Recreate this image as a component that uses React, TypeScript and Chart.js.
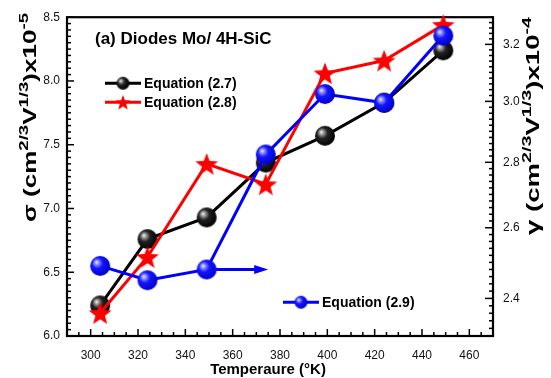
import React, { useEffect, useRef } from "react";
import { Chart, registerables } from "chart.js";

Chart.register(...registerables);

// ---- data ----
const TEMPERATURES = [304, 324, 349, 374, 399, 424, 449];
const SIGMA_EQ27 = [6.24, 6.76, 6.93, 7.36, 7.57, 7.83, 8.24];
const SIGMA_EQ28 = [6.18, 6.62, 7.35, 7.19, 8.06, 8.16, 8.44];
const GAMMA_EQ29 = [2.49, 2.45, 2.48, 2.825, 3.025, 2.995, 3.232];
const X_TICKS = [300, 320, 340, 360, 380, 400, 420, 440, 460];
const LEFT_TICKS = [6.0, 6.5, 7.0, 7.5, 8.0, 8.5];
const RIGHT_TICKS = [2.4, 2.6, 2.8, 3.0, 3.2];
const ARROW_X = [353, 375];
const ARROW_Y = 2.48;

const FONT = "'Liberation Sans', Arial, sans-serif";

function makeSphere(r: number, hi: string, base: string, dark: string) {
  const c = document.createElement("canvas");
  const s = Math.ceil(2 * r + 2);
  c.width = s;
  c.height = s;
  const g = c.getContext("2d")!;
  const cx = s / 2, cy = s / 2;
  const grad = g.createRadialGradient(cx - r * 0.38, cy - r * 0.38, 0, cx - r * 0.15, cy - r * 0.15, r * 1.2);
  grad.addColorStop(0, "#ffffff");
  grad.addColorStop(0.13, hi);
  grad.addColorStop(0.45, base);
  grad.addColorStop(1, dark);
  g.fillStyle = grad;
  g.beginPath();
  g.arc(cx, cy, r, 0, Math.PI * 2);
  g.fill();
  return c;
}

function makeStar(R: number, color: string) {
  const c = document.createElement("canvas");
  const s = Math.ceil(2 * R + 2);
  c.width = s;
  c.height = s;
  const g = c.getContext("2d")!;
  const cx = s / 2, cy = s / 2 + R * 0.1;
  const r = R * 0.42;
  g.beginPath();
  for (let i = 0; i < 10; i++) {
    const a = -Math.PI / 2 + (i * Math.PI) / 5;
    const rr = i % 2 === 0 ? R : r;
    const x = cx + rr * Math.cos(a), y = cy + rr * Math.sin(a);
    if (i === 0) g.moveTo(x, y);
    else g.lineTo(x, y);
  }
  g.closePath();
  g.fillStyle = color;
  g.fill();
  return c;
}

type Seg = { t: string; sup?: boolean };

function drawRotatedRich(ctx: CanvasRenderingContext2D, x: number, y: number, segs: Seg[], len: number, main: number, sup: number, raise: number) {
  ctx.save();
  ctx.translate(x, y);
  ctx.rotate(-Math.PI / 2);
  let total = 0;
  segs.forEach((s) => {
    ctx.font = `bold ${s.sup ? sup : main}px ${FONT}`;
    total += ctx.measureText(s.t).width;
  });
  ctx.scale(len / total, 1);
  ctx.fillStyle = "#000";
  ctx.textBaseline = "alphabetic";
  ctx.textAlign = "left";
  let pos = 0;
  segs.forEach((s) => {
    ctx.font = `bold ${s.sup ? sup : main}px ${FONT}`;
    ctx.fillText(s.t, pos, s.sup ? -raise : 0);
    pos += ctx.measureText(s.t).width;
  });
  ctx.restore();
}

export default function App() {
  const ref = useRef<HTMLCanvasElement | null>(null);
  useEffect(() => {
    document.body.style.margin = "0";
    const blackSphere = makeSphere(10, "#b5b5b5", "#222222", "#000000");
    const blueSphere = makeSphere(10, "#a8a8ff", "#1515ff", "#0000c8");
    const redStar = makeStar(12, "#ff0000");
    const blackSmall = makeSphere(6.5, "#b5b5b5", "#222222", "#000000");
    const blueSmall = makeSphere(6.5, "#a8a8ff", "#1515ff", "#0000c8");
    const redSmall = makeStar(8, "#ff0000");

    const decor = {
      id: "decor",
      beforeDatasetsDraw(chart: any) {
        const { ctx, chartArea: a, scales } = chart;
        ctx.save();
        ctx.strokeStyle = "#000";
        ctx.lineWidth = 1.5;
        const xs = scales.x, yl = scales.y, yr = scales.y2;
        for (let v = 290; v <= 470; v += 5) {
          const px = xs.getPixelForValue(v);
          const major = (v - 300) % 20 === 0;
          ctx.beginPath();
          ctx.moveTo(px, a.bottom);
          ctx.lineTo(px, a.bottom - (major ? 7 : 4));
          ctx.stroke();
        }
        for (let i = 0; i <= 50; i++) {
          const v = 6 + i * 0.05;
          const py = yl.getPixelForValue(v);
          const major = i % 10 === 0;
          ctx.beginPath();
          ctx.moveTo(a.left, py);
          ctx.lineTo(a.left + (major ? 7 : 4), py);
          ctx.stroke();
        }
        for (let i = 0; i <= 50; i++) {
          const v = 2.3 + i * 0.02;
          const py = yr.getPixelForValue(v);
          const major = (i - 5) % 10 === 0;
          ctx.beginPath();
          ctx.moveTo(a.right, py);
          ctx.lineTo(a.right - (major ? 8 : 4), py);
          ctx.stroke();
        }
        ctx.lineWidth = 2.2;
        ctx.strokeRect(a.left, a.top, a.right - a.left, a.bottom - a.top);
        ctx.restore();
      },
      afterDatasetsDraw(chart: any) {
        const { ctx, chartArea: a, scales } = chart;
        ctx.save();
        // arrow
        const ax0 = scales.x.getPixelForValue(ARROW_X[0]);
        const ax1 = scales.x.getPixelForValue(ARROW_X[1]);
        const ay = scales.y2.getPixelForValue(ARROW_Y);
        ctx.strokeStyle = "#0000ff";
        ctx.fillStyle = "#0000ff";
        ctx.lineWidth = 3;
        ctx.beginPath();
        ctx.moveTo(ax0, ay);
        ctx.lineTo(ax1 - 10, ay);
        ctx.stroke();
        ctx.beginPath();
        ctx.moveTo(ax1, ay);
        ctx.lineTo(ax1 - 14, ay - 4.5);
        ctx.lineTo(ax1 - 14, ay + 4.5);
        ctx.closePath();
        ctx.fill();

        // title
        ctx.fillStyle = "#000";
        ctx.font = `bold 17px ${FONT}`;
        ctx.textBaseline = "middle";
        ctx.textAlign = "left";
        ctx.fillText("(a) Diodes Mo/ 4H-SiC", a.left + 28, a.top + 22);

        // legend
        const legend = (x0: number, y: number, color: string, img: HTMLCanvasElement, text: string) => {
          ctx.strokeStyle = color;
          ctx.lineWidth = 3;
          ctx.beginPath();
          ctx.moveTo(x0, y);
          ctx.lineTo(x0 + 36, y);
          ctx.stroke();
          ctx.drawImage(img, x0 + 18 - img.width / 2, y - img.height / 2);
          ctx.fillStyle = "#000";
          ctx.font = `bold 14px ${FONT}`;
          ctx.textBaseline = "middle";
          ctx.fillText(text, x0 + 39, y + 1);
        };
        legend(a.left + 38, a.top + 66, "#000", blackSmall, "Equation (2.7)");
        legend(a.left + 38, a.top + 85, "#ff0000", redSmall, "Equation (2.8)");
        legend(a.left + 216, a.top + 285, "#0000ff", blueSmall, "Equation (2.9)");

        // x title
        ctx.fillStyle = "#000";
        ctx.font = `bold 15px ${FONT}`;
        ctx.textAlign = "center";
        ctx.textBaseline = "alphabetic";
        ctx.fillText("Temperaure (\u00B0K)", (a.left + a.right) / 2 - 12, 374);

        // y titles
        drawRotatedRich(
          ctx, 36, 222,
          [{ t: "\u03C3 (cm" }, { t: "2/3", sup: true }, { t: "V" }, { t: "1/3", sup: true }, { t: ")x10" }, { t: "-5", sup: true }],
          209, 17.5, 12.5, 8.5
        );
        drawRotatedRich(
          ctx, 539, 235,
          [{ t: "\u03B3 (cm" }, { t: "2/3", sup: true }, { t: "V" }, { t: "1/3", sup: true }, { t: ")x10" }, { t: "-4", sup: true }],
          218, 17.5, 12.5, 8.5
        );
        ctx.restore();
      },
    };

    const tickFont = { family: FONT, size: 12 };
    const chart = new Chart(ref.current!, {
      type: "line",
      data: {
        datasets: [
          {
            label: "Equation (2.7)",
            data: TEMPERATURES.map((x, i) => ({ x, y: SIGMA_EQ27[i] })),
            yAxisID: "y",
            borderColor: "#000000",
            borderWidth: 3,
            pointStyle: blackSphere as any,
            pointRadius: 10,
            order: 3,
            clip: false as any,
          },
          {
            label: "Equation (2.8)",
            data: TEMPERATURES.map((x, i) => ({ x, y: SIGMA_EQ28[i] })),
            yAxisID: "y",
            borderColor: "#ff0000",
            borderWidth: 3,
            pointStyle: redStar as any,
            pointRadius: 12,
            order: 2,
            clip: false as any,
          },
          {
            label: "Equation (2.9)",
            data: TEMPERATURES.map((x, i) => ({ x, y: GAMMA_EQ29[i] })),
            yAxisID: "y2",
            borderColor: "#0000ff",
            borderWidth: 3,
            pointStyle: blueSphere as any,
            pointRadius: 10,
            order: 1,
            clip: false as any,
          },
        ],
      },
      options: {
        animation: false,
        responsive: true,
        maintainAspectRatio: false,
        layout: { padding: { top: 15, left: 0, right: 0, bottom: 0 } },
        plugins: { legend: { display: false }, tooltip: { enabled: false } },
        scales: {
          x: {
            type: "linear",
            min: 290,
            max: 470,
            afterBuildTicks: (s: any) => { s.ticks = X_TICKS.map((v) => ({ value: v })); },
            afterFit: (s: any) => { s.height = 42; },
            grid: { display: false, drawTicks: false },
            border: { display: false },
            ticks: { font: tickFont, color: "#111", padding: 12, maxRotation: 0, autoSkip: false, callback: (v: any) => String(v) },
          },
          y: {
            type: "linear",
            position: "left",
            min: 6,
            max: 8.5,
            afterBuildTicks: (s: any) => { s.ticks = LEFT_TICKS.map((v) => ({ value: v })); },
            afterFit: (s: any) => { s.width = 67; },
            grid: { display: false, drawTicks: false },
            border: { display: false },
            ticks: { font: tickFont, color: "#111", padding: 7, callback: (v: any) => Number(v).toFixed(1) },
          },
          y2: {
            type: "logarithmic",
            position: "right",
            min: 2.3,
            max: 3.3,
            afterBuildTicks: (s: any) => { s.ticks = RIGHT_TICKS.map((v) => ({ value: v })); },
            afterFit: (s: any) => { s.width = 58; },
            grid: { display: false, drawTicks: false },
            border: { display: false },
            ticks: { font: tickFont, color: "#111", padding: 10, callback: (v: any) => Number(v).toFixed(1) },
          },
        },
      } as any,
      plugins: [decor],
    });
    return () => chart.destroy();
  }, []);

  return (
    <div style={{ position: "relative", width: 551, height: 378 }}>
      <canvas ref={ref} />
    </div>
  );
}
